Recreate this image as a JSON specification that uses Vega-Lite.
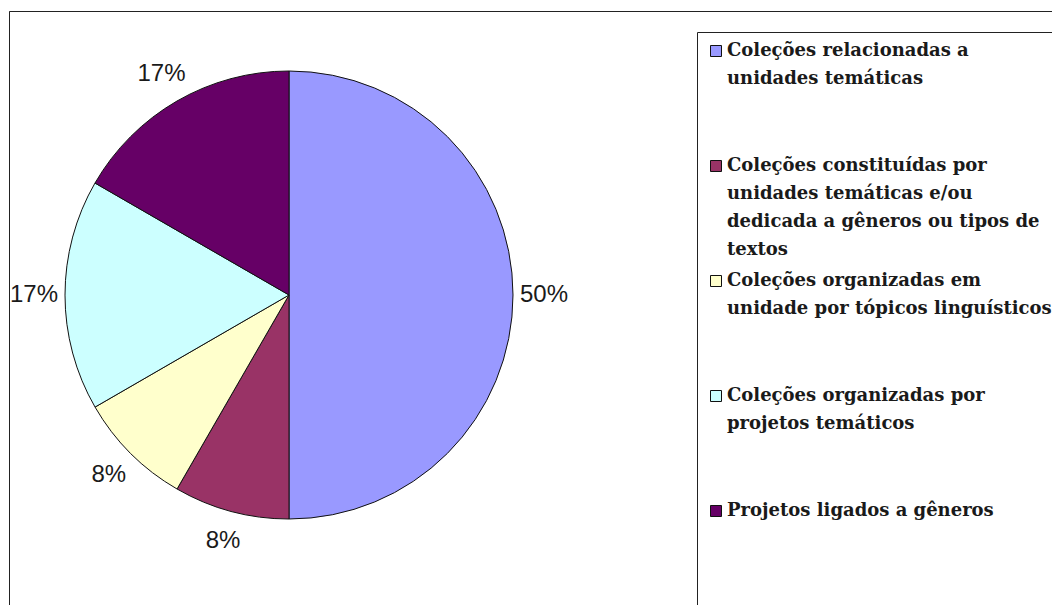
{
  "$schema": "https://vega.github.io/schema/vega-lite/v6.json",
  "width": 1043,
  "height": 594,
  "autosize": {"type": "none"},
  "padding": {"left": 9, "top": 11, "right": 0, "bottom": 0},
  "background": "white",
  "config": {
    "view": {"stroke": "#222222", "strokeWidth": 1, "strokeDash": [1043, 1637, 594]},
    "style": {"view": {"stroke": "#222222", "strokeWidth": 1, "strokeDash": [1043, 1637, 594]}}
  },
  "data": {
    "values": [
      {"categoria": "Coleções relacionadas a unidades temáticas", "valor": 0.5, "ordem": 1},
      {"categoria": "Coleções constituídas por unidades temáticas e/ou dedicada a gêneros ou tipos de textos", "valor": 0.0833, "ordem": 2},
      {"categoria": "Coleções organizadas em unidade por tópicos linguísticos", "valor": 0.0833, "ordem": 3},
      {"categoria": "Coleções organizadas por projetos temáticos", "valor": 0.1667, "ordem": 4},
      {"categoria": "Projetos ligados a gêneros", "valor": 0.1667, "ordem": 5}
    ]
  },
  "encoding": {
    "theta": {"field": "valor", "type": "quantitative", "stack": true},
    "order": {"field": "ordem", "type": "quantitative"}
  },
  "layer": [
    {
      "mark": {"type": "arc", "outerRadius": 224, "x": 280, "y": 284, "stroke": "#111111", "strokeWidth": 1},
      "encoding": {
        "color": {
          "field": "categoria",
          "type": "nominal",
          "scale": {
            "domain": [
              "Coleções relacionadas a unidades temáticas",
              "Coleções constituídas por unidades temáticas e/ou dedicada a gêneros ou tipos de textos",
              "Coleções organizadas em unidade por tópicos linguísticos",
              "Coleções organizadas por projetos temáticos",
              "Projetos ligados a gêneros"
            ],
            "range": ["#9999FF", "#993366", "#FFFFCC", "#CCFFFF", "#660066"]
          },
          "legend": {
            "orient": "none",
            "legendX": 688,
            "legendY": 21,
            "title": null,
            "direction": "vertical",
            "strokeColor": "#222222",
            "fillColor": "white",
            "padding": 10,
            "symbolType": "square",
            "symbolSize": 121,
            "symbolStrokeColor": "#111111",
            "symbolStrokeWidth": 1,
            "symbolOpacity": 1,
            "labelFont": "DejaVu Serif",
            "labelFontWeight": "bold",
            "labelFontSize": 18,
            "labelColor": "#1a1a1a",
            "labelLimit": 500,
            "labelOffset": 2,
            "labelBaseline": "top",
            "gridAlign": "all",
            "rowPadding": 13,
            "labelExpr": "{'Coleções relacionadas a unidades temáticas': ['Coleções relacionadas a', 'unidades temáticas'], 'Coleções constituídas por unidades temáticas e/ou dedicada a gêneros ou tipos de textos': ['Coleções constituídas por', 'unidades temáticas e/ou', 'dedicada a gêneros ou tipos de', 'textos'], 'Coleções organizadas em unidade por tópicos linguísticos': ['Coleções organizadas em', 'unidade por tópicos linguísticos'], 'Coleções organizadas por projetos temáticos': ['Coleções organizadas por', 'projetos temáticos'], 'Projetos ligados a gêneros': ['Projetos ligados a gêneros', '', '', '']}[datum.label]",
            "encode": {
              "labels": {"update": {"dy": {"value": -9}, "lineHeight": {"value": 28}}}
            }
          }
        }
      }
    },
    {
      "mark": {"type": "text", "radius": 255, "x": 280, "y": 284, "font": "Liberation Sans", "fontSize": 24, "fill": "#1a1a1a"},
      "encoding": {
        "detail": {"field": "categoria", "type": "nominal"},
        "text": {"field": "valor", "type": "quantitative", "format": ".0%"}
      }
    }
  ]
}
